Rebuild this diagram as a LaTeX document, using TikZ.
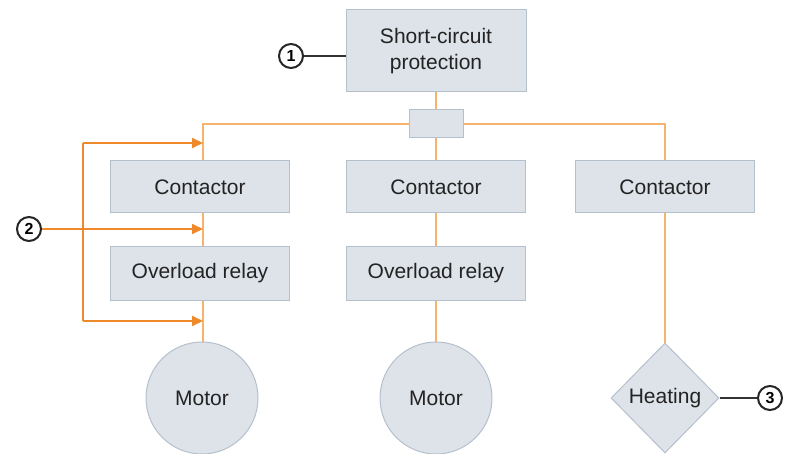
\documentclass[tikz,border=0pt]{standalone}
\usepackage{fontspec}
\setmainfont{Liberation Sans}
\usetikzlibrary{shapes.geometric,arrows.meta}
\definecolor{boxfill}{RGB}{221,227,233}
\definecolor{boxdraw}{RGB}{180,192,204}
\definecolor{wire}{RGB}{245,180,110}
\definecolor{arr}{RGB}{238,137,44}
\definecolor{txt}{RGB}{35,35,35}
\tikzset{
  blk/.style={draw=boxdraw,fill=boxfill,line width=1pt,minimum width=179pt,minimum height=52pt,inner sep=0pt,text=txt,font=\fontsize{21}{26}\selectfont,align=center},
  motorc/.style={circle,draw=boxdraw,fill=boxfill,line width=1pt,minimum size=112pt,inner sep=0pt,text=txt,font=\fontsize{21}{26}\selectfont},
  heat/.style={diamond,draw=boxdraw,fill=boxfill,line width=1pt,minimum width=108pt,minimum height=110pt,inner sep=0pt,text=txt,font=\fontsize{21}{26}\selectfont},
  callout/.style={circle,draw=black!85,line width=2pt,minimum size=24pt,inner sep=0pt,font=\fontsize{16}{18}\selectfont\bfseries},
  wireline/.style={draw=wire,line width=1.6pt},
  arrline/.style={draw=arr,line width=2pt},
  calline/.style={draw=black!80,line width=1.8pt},
  arrtip/.style={-{Triangle[length=11pt,width=10pt]}}
}
\begin{document}
\begin{tikzpicture}[x=1pt,y=-1pt]
\useasboundingbox (0,0) rectangle (786,454);
% nodes
\node[blk,minimum width=180pt,minimum height=82pt] (scp) at (436,51) {Short-circuit\\protection};
\node[blk,minimum width=54pt,minimum height=28pt] (sw) at (436,124) {};
\node[blk] (c1) at (200,187) {Contactor};
\node[blk] (c2) at (436,187) {Contactor};
\node[blk] (c3) at (665,187) {Contactor};
\node[blk,minimum height=54pt] (o1) at (200,273) {Overload relay};
\node[blk,minimum height=54pt] (o2) at (436,273) {Overload relay};
\node[motorc] (m1) at (202,398) {Motor};
\node[motorc] (m2) at (436,398) {Motor};
\node[heat] (h) at (665,398) {Heating};
\node[callout] (n1) at (291,56) {1};
\node[callout] (n2) at (29,229) {2};
\node[callout] (n3) at (770,398) {3};
\coordinate (bl) at (203,124);
\coordinate (br) at (665,124);
\coordinate (a1) at (203,143);
\coordinate (a2) at (203,229);
\coordinate (a3) at (203,321);
\coordinate (v1) at (83,143);
\coordinate (v3) at (83,321);
% wires
\path[wireline] (sw.west) -- (bl) -- (bl |- c1.north);
\path[wireline] (sw.east) -- (br) -- (c3.north);
\path[wireline] (scp.south) -- (sw.north);
\path[wireline] (sw.south) -- (c2.north);
\path[wireline] (bl |- c1.south) -- (bl |- o1.north);
\path[wireline] (bl |- o1.south) -- (bl |- m1.north);
\path[wireline] (c2.south) -- (o2.north);
\path[wireline] (o2.south) -- (m2.north);
\path[wireline] (c3.south) -- (h.north);
% arrows
\path[arrline,arrtip] (n2.east) -- (a2);
\path[arrline,arrtip] (v1) -- (a1);
\path[arrline,arrtip] (v3) -- (a3);
\path[arrline] (v1) -- (v3);
% callout lines
\path[calline] (n1.east) -- (scp.west |- n1.east);
\path[calline] (h.east) -- (n3.west);
\end{tikzpicture}
\end{document}
